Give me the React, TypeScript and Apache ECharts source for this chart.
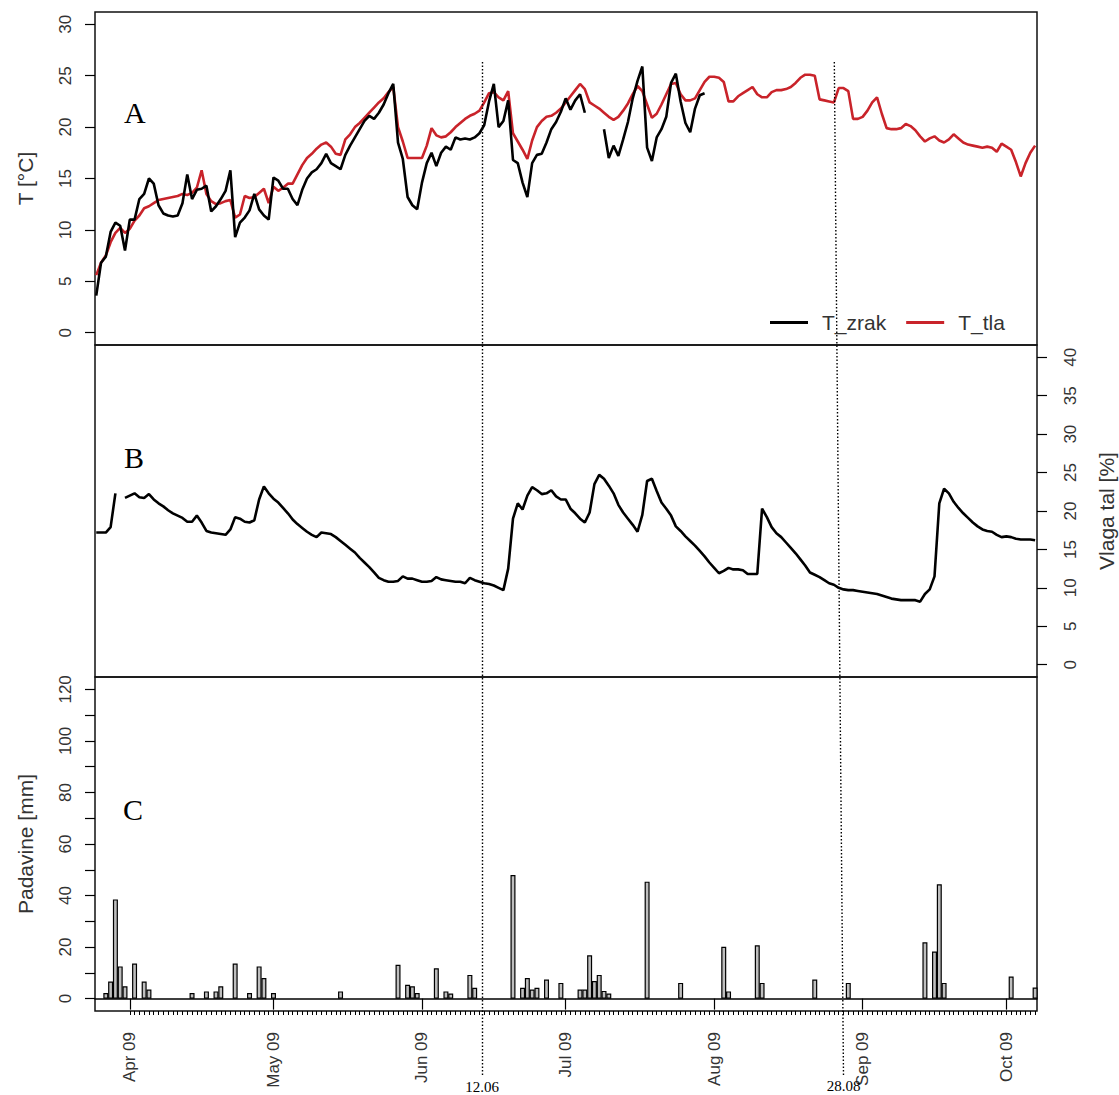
import React, { useEffect, useRef } from 'react';
import * as echarts from 'echarts';

// ---------- data ----------
const seriesStart = '2009-03-25'; // first day of the daily series
const xMin = '2009-03-24T17:45';
const xMax = '2009-10-07T09:30';

const monthTicks = ['2009-04-01', '2009-05-01', '2009-06-01', '2009-07-01', '2009-08-01', '2009-09-01', '2009-10-01'];
const monthLabels = ['Apr 09', 'May 09', 'Jun 09', 'Jul 09', 'Aug 09', 'Sep 09', 'Oct 09'];

const tempTicks = [0, 5, 10, 15, 20, 25, 30];
const moistureTicks = [0, 5, 10, 15, 20, 25, 30, 35, 40];
const rainTicks = [0, 10, 20, 30, 40, 50, 60, 70, 80, 90, 100, 110, 120];
const rainLabelTicks = [0, 20, 40, 60, 80, 100, 120];

// air temperature (daily from 25 Mar)
const tZrak = [
  3.6, 6.8, 7.4, 9.8, 10.7, 10.4, 8.0, 11.0, 11.0, 13.0,
  13.5, 15.0, 14.5, 12.4, 11.6, 11.4, 11.3, 11.4, 12.6, 15.4,
  13.0, 13.9, 14.0, 14.3, 11.8, 12.3, 13.0, 13.8, 15.8, 9.3,
  10.7, 11.2, 11.9, 13.5, 12.0, 11.4, 11.0, 15.1, 14.8, 14.0,
  14.0, 13.0, 12.4, 13.9, 15.0, 15.6, 15.9, 16.5, 17.4, 16.5,
  16.2, 15.9, 17.3, 18.2, 19.0, 19.8, 20.6, 21.1, 20.8, 21.4,
  22.2, 23.3, 24.2, 18.5, 16.9, 13.2, 12.4, 12.0, 14.6, 16.5,
  17.5, 16.2, 17.5, 18.1, 17.8, 19.0, 18.8, 18.9, 18.8, 19.0,
  19.4, 20.2, 22.5, 24.2, 20.0, 20.6, 22.6, 16.8, 16.5, 14.6,
  13.2, 16.5, 17.3, 17.4, 18.5, 19.8, 20.5, 21.5, 22.8, 21.7,
  22.6, 23.2, 21.4, null, null, null, 19.8, 17.0, 18.2, 17.2,
  18.8, 20.5, 22.8, 24.5, 25.9, 18.0, 16.7, 19.0, 19.8, 21.0,
  24.3, 25.2, 22.5, 20.4, 19.5, 21.8, 23.1, 23.3,
];

// soil temperature (daily from 25 Mar)
const tTla = [
  5.6, 6.8, 7.5, 8.8, 9.7, 10.2, 9.7, 10.1, 10.9, 11.4,
  12.1, 12.3, 12.6, 12.9, 13.0, 13.1, 13.2, 13.3, 13.5, 13.4,
  13.6, 14.1, 15.8, 13.5, 12.8, 12.5, 12.6, 12.8, 12.9, 11.2,
  11.5, 13.3, 13.1, 13.2, 13.6, 14.0, 12.6, 14.2, 13.8, 14.1,
  14.5, 14.5, 15.4, 16.3, 17.0, 17.4, 17.9, 18.3, 18.5, 18.1,
  17.4, 17.3, 18.8, 19.3, 20.0, 20.4, 20.9, 21.4, 21.9, 22.4,
  22.8, 23.4, 23.9, 20.0, 18.6, 17.0, 17.0, 17.0, 17.0, 18.2,
  19.9, 19.2, 19.0, 19.1, 19.5, 20.0, 20.4, 20.8, 21.1, 21.3,
  21.6, 22.4, 23.3, 23.4, 22.9, 22.6, 23.5, 19.4, 18.6, 17.8,
  16.9, 18.7, 20.0, 20.6, 21.0, 21.1, 21.4, 21.8, 22.4, 23.0,
  23.6, 24.2, 23.7, 22.4, 22.1, 21.8, 21.4, 21.0, 20.7, 21.0,
  21.6, 22.3, 23.2, 24.0, 23.5, 22.2, 20.9, 21.3, 22.2, 23.2,
  24.2, 24.3, 23.2, 22.6, 22.6, 22.8, 23.6, 24.4, 24.9, 24.9,
  24.8, 24.4, 22.5, 22.5, 23.0, 23.3, 23.6, 23.9, 23.2, 22.9,
  22.9, 23.4, 23.6, 23.6, 23.7, 23.9, 24.3, 24.8, 25.1, 25.1,
  25.0, 22.7, 22.6, 22.5, 22.4, 23.8, 23.8, 23.5, 20.8, 20.8,
  21.0, 21.6, 22.4, 22.9, 21.3, 19.9, 19.8, 19.8, 19.9, 20.3,
  20.1, 19.7, 19.1, 18.6, 18.9, 19.1, 18.7, 18.5, 18.8, 19.3,
  18.9, 18.5, 18.3, 18.2, 18.1, 18.0, 18.1, 18.0, 17.6, 18.4,
  18.1, 17.8, 16.6, 15.2, 16.5, 17.5, 18.2,
];

// soil moisture (daily from 25 Mar)
const vlagaTal = [
  17.2, 17.2, 17.2, 17.9, 22.3, null, 21.7, 22.0, 22.3, 21.8,
  21.7, 22.2, 21.5, 21.0, 20.6, 20.1, 19.7, 19.4, 19.1, 18.6,
  18.6, 19.4, 18.5, 17.4, 17.2, 17.1, 17.0, 16.9, 17.6, 19.2,
  19.0, 18.6, 18.5, 18.8, 21.5, 23.2, 22.3, 21.6, 21.1, 20.4,
  19.7, 18.9, 18.3, 17.8, 17.3, 16.9, 16.6, 17.2, 17.1, 17.0,
  16.6, 16.1, 15.6, 15.1, 14.6, 13.9, 13.3, 12.7, 12.0, 11.3,
  11.0, 10.8, 10.8, 10.9, 11.5, 11.2, 11.2, 11.0, 10.8, 10.8,
  10.9, 11.4, 11.1, 11.0, 10.9, 10.8, 10.8, 10.6, 11.3, 11.0,
  10.8, 10.6, 10.5, 10.3, 10.0, 9.7, 12.5, 19.0, 21.0, 20.2,
  22.0, 23.1, 22.7, 22.2, 22.3, 22.7, 21.9, 21.5, 21.5, 20.3,
  19.7, 19.0, 18.5, 19.8, 23.5, 24.7, 24.2, 23.3, 22.3, 20.8,
  19.8, 19.0, 18.2, 17.3, 19.5, 23.9, 24.2, 22.6, 21.1, 20.3,
  19.4, 18.0, 17.4, 16.7, 16.1, 15.5, 14.8, 14.1, 13.3, 12.6,
  11.9, 12.2, 12.6, 12.4, 12.4, 12.3, 11.8, 11.8, 11.8, 20.3,
  19.2, 17.9, 17.1, 16.6, 15.9, 15.2, 14.5, 13.7, 12.9, 12.0,
  11.7, 11.4, 11.0, 10.6, 10.4, 10.0, 9.8, 9.7, 9.7, 9.6,
  9.5, 9.4, 9.3, 9.2, 9.0, 8.8, 8.6, 8.5, 8.4, 8.4,
  8.4, 8.4, 8.2, 9.2, 9.8, 11.5, 21.0, 22.9, 22.3, 21.2,
  20.4, 19.7, 19.1, 18.5, 18.0, 17.6, 17.4, 17.3, 16.9, 16.6,
  16.7, 16.6, 16.4, 16.3, 16.3, 16.3, 16.2,
];

// precipitation
const rainDates = [
  '2009-03-27', '2009-03-28', '2009-03-29', '2009-03-30', '2009-03-31', '2009-04-02', '2009-04-04', '2009-04-05',
  '2009-04-14', '2009-04-17', '2009-04-19', '2009-04-20', '2009-04-23', '2009-04-26', '2009-04-28', '2009-04-29',
  '2009-05-01', '2009-05-15', '2009-05-27', '2009-05-29', '2009-05-30', '2009-05-31', '2009-06-04', '2009-06-06',
  '2009-06-07', '2009-06-11', '2009-06-12', '2009-06-20', '2009-06-22', '2009-06-23', '2009-06-24', '2009-06-25',
  '2009-06-27', '2009-06-30', '2009-07-04', '2009-07-05', '2009-07-06', '2009-07-07', '2009-07-08', '2009-07-09',
  '2009-07-10', '2009-07-18', '2009-07-25', '2009-08-03', '2009-08-04', '2009-08-10', '2009-08-11', '2009-08-22',
  '2009-08-29', '2009-09-14', '2009-09-16', '2009-09-17', '2009-09-18', '2009-10-02', '2009-10-07',
];
const rainMm = [
  2.2, 6.6, 38.5, 12.5, 4.8, 13.6, 6.6, 3.5,
  2.2, 2.8, 2.8, 4.8, 13.6, 2.2, 12.5, 8.0,
  2.2, 2.8, 13.1, 5.4, 4.8, 2.2, 11.8, 2.8,
  2.0, 9.2, 4.2, 48.0, 4.2, 8.0, 3.5, 4.2,
  7.4, 6.1, 3.5, 3.5, 16.8, 6.8, 9.2, 3.0,
  2.0, 45.4, 6.1, 20.1, 2.8, 20.7, 6.1, 7.4,
  6.1, 21.9, 18.3, 44.4, 6.1, 8.6, 4.3,
];

// dotted reference lines (top of line / bottom of line)
const refLabels = ['12.06', '28.08'];
const refTop = ['2009-06-13T13:10', '2009-08-26T02:00'];
const refBottom = ['2009-06-13T13:10', '2009-08-28T00:00'];

// ---------- helpers ----------
function toTime(s: string): number {
  const [datePart, timePart] = s.split('T');
  const [y, m, d] = datePart.split('-').map(Number);
  const [hh, mm] = timePart ? timePart.split(':').map(Number) : [0, 0];
  return new Date(y, m - 1, d, hh, mm).getTime();
}
function daily(values: (number | null)[]) {
  const [y, m, d] = seriesStart.split('-').map(Number);
  return values.map((v, i) => [new Date(y, m - 1, d + i).getTime(), v]);
}

const FONT = '"Liberation Sans", Arial, sans-serif';
const SERIF = '"Liberation Serif", "Times New Roman", serif';
const TXT = '#333';

export default function App() {
  const ref = useRef<HTMLDivElement>(null);

  useEffect(() => {
    if (!ref.current) return;
    const chart = echarts.init(ref.current, undefined, { renderer: 'svg' });

    const min = toTime(xMin);
    const max = toTime(xMax);
    const monthTs = monthTicks.map(toTime);
    const dayTicks: number[] = [];
    {
      const s = new Date(toTime(monthTicks[0]));
      for (let i = 0; ; i++) {
        const t = new Date(s.getFullYear(), s.getMonth(), s.getDate() + i).getTime();
        if (t > max) break;
        dayTicks.push(t);
      }
    }
    const tickLine = { color: '#000', width: 1.2 };
    const hiddenX = (gridIndex: number) => ({ type: 'value', gridIndex, min, max, show: false });

    const yCommon = {
      axisLine: { show: false },
      splitLine: { show: false },
      nameLocation: 'middle',
      nameRotate: 90,
      nameGap: 59,
      nameTextStyle: { fontSize: 21, color: TXT, fontFamily: FONT },
    };
    const lbl = { rotate: 90, fontSize: 17, color: TXT, fontFamily: FONT };
    const box = { show: true, borderColor: '#111', borderWidth: 1.5, backgroundColor: 'transparent', outerBoundsMode: 'none', containLabel: false };

    const option: any = {
      animation: false,
      backgroundColor: '#fff',
      grid: [
        { left: 95, top: 12, width: 942, height: 333, ...box },
        { left: 95, top: 345, width: 942, height: 332, ...box },
        { left: 95, top: 677, width: 942, height: 334, ...box },
        { left: 95, top: 62, width: 942, height: 1014, show: false, outerBoundsMode: 'none', containLabel: false },
      ],
      xAxis: [
        hiddenX(0),
        hiddenX(1),
        {
          type: 'value', gridIndex: 2, min, max, position: 'bottom',
          axisLine: { show: true, lineStyle: { color: '#000', width: 1.5 } },
          axisTick: { show: true, length: 11, customValues: monthTs, lineStyle: tickLine },
          axisLabel: {
            customValues: monthTs, margin: 21, ...lbl,
            formatter: (v: number) => {
              const i = monthTs.findIndex((m) => Math.abs(m - v) < 3600000);
              return i >= 0 ? monthLabels[i] : '';
            },
          },
          splitLine: { show: false },
        },
        hiddenX(3),
        {
          type: 'value', gridIndex: 2, min, max, position: 'bottom',
          axisLine: { show: false },
          axisTick: { show: true, length: 4, customValues: dayTicks, lineStyle: { color: '#000', width: 1 } },
          axisLabel: { show: false },
          splitLine: { show: false },
        },
      ],
      yAxis: [
        {
          type: 'value', gridIndex: 0, min: -1.2, max: 31.2, position: 'left',
          ...yCommon, name: 'T [°C]',
          axisTick: { show: true, length: 10, customValues: tempTicks, lineStyle: tickLine },
          axisLabel: { customValues: tempTicks, margin: 21, ...lbl },
        },
        {
          type: 'value', gridIndex: 1, min: -1.6, max: 41.6, position: 'right',
          ...yCommon, name: 'Vlaga tal [%]',
          axisTick: { show: true, length: 10, customValues: moistureTicks, lineStyle: tickLine },
          axisLabel: { customValues: moistureTicks, margin: 25, ...lbl },
        },
        {
          type: 'value', gridIndex: 2, min: -4.8, max: 124.8, position: 'left',
          ...yCommon, name: 'Padavine [mm]',
          axisTick: { show: true, length: 10, customValues: rainTicks, lineStyle: tickLine },
          axisLabel: { customValues: rainLabelTicks, margin: 21, ...lbl },
        },
        { type: 'value', gridIndex: 3, min: 0, max: 1, show: false },
      ],
      legend: {
        data: ['T_zrak', 'T_tla'],
        left: 770, top: 312, padding: 0,
        itemWidth: 38, itemHeight: 3, itemGap: 20, icon: 'rect',
        textStyle: { fontSize: 21, color: TXT, fontFamily: FONT, padding: [0, 0, 0, 9] },
      },
      series: [
        {
          name: 'T_tla', type: 'line', xAxisIndex: 0, yAxisIndex: 0, data: daily(tTla),
          showSymbol: false, symbol: 'none', z: 2,
          lineStyle: { color: '#c9232a', width: 2.6 }, itemStyle: { color: '#c9232a' },
        },
        {
          name: 'T_zrak', type: 'line', xAxisIndex: 0, yAxisIndex: 0, data: daily(tZrak),
          showSymbol: false, symbol: 'none', z: 3, connectNulls: false,
          lineStyle: { color: '#000', width: 2.6 }, itemStyle: { color: '#000' },
        },
        {
          name: 'Vlaga tal', type: 'line', xAxisIndex: 1, yAxisIndex: 1, data: daily(vlagaTal),
          showSymbol: false, symbol: 'none', connectNulls: false,
          lineStyle: { color: '#000', width: 2.6 }, itemStyle: { color: '#000' },
        },
        {
          name: 'Padavine', type: 'bar', xAxisIndex: 2, yAxisIndex: 2,
          data: rainDates.map((d, i) => [toTime(d), rainMm[i]]),
          barWidth: 5, barCategoryGap: '0%',
          itemStyle: { color: '#bebebe', borderColor: '#000', borderWidth: 1.2 },
        },
        {
          name: 'ref', type: 'line', xAxisIndex: 3, yAxisIndex: 3, data: [],
          markLine: {
            silent: true, symbol: ['none', 'none'],
            lineStyle: { color: '#000', width: 1.4, type: [1.5, 2] },
            label: { show: true, position: 'end', distance: 3, formatter: '{b}', fontFamily: SERIF, fontSize: 15, color: '#000' },
            data: refLabels.map((name, i) => [
              { name, coord: [toTime(refTop[i]), 1] },
              { coord: [toTime(refBottom[i]), 0] },
            ]),
          },
        },
      ],
      graphic: [
        { type: 'text', x: 124, y: 112, style: { text: 'A', font: `30px ${SERIF}`, fill: '#000', textVerticalAlign: 'middle', verticalAlign: 'middle' } },
        { type: 'text', x: 124, y: 457, style: { text: 'B', font: `30px ${SERIF}`, fill: '#000', textVerticalAlign: 'middle', verticalAlign: 'middle' } },
        { type: 'text', x: 123, y: 809, style: { text: 'C', font: `30px ${SERIF}`, fill: '#000', textVerticalAlign: 'middle', verticalAlign: 'middle' } },
      ],
    };

    chart.setOption(option);
    return () => chart.dispose();
  }, []);

  return (
    <div
      ref={ref}
      style={{ position: 'absolute', left: 0, top: 0, width: 1119, height: 1095, background: '#fff' }}
    />
  );
}
